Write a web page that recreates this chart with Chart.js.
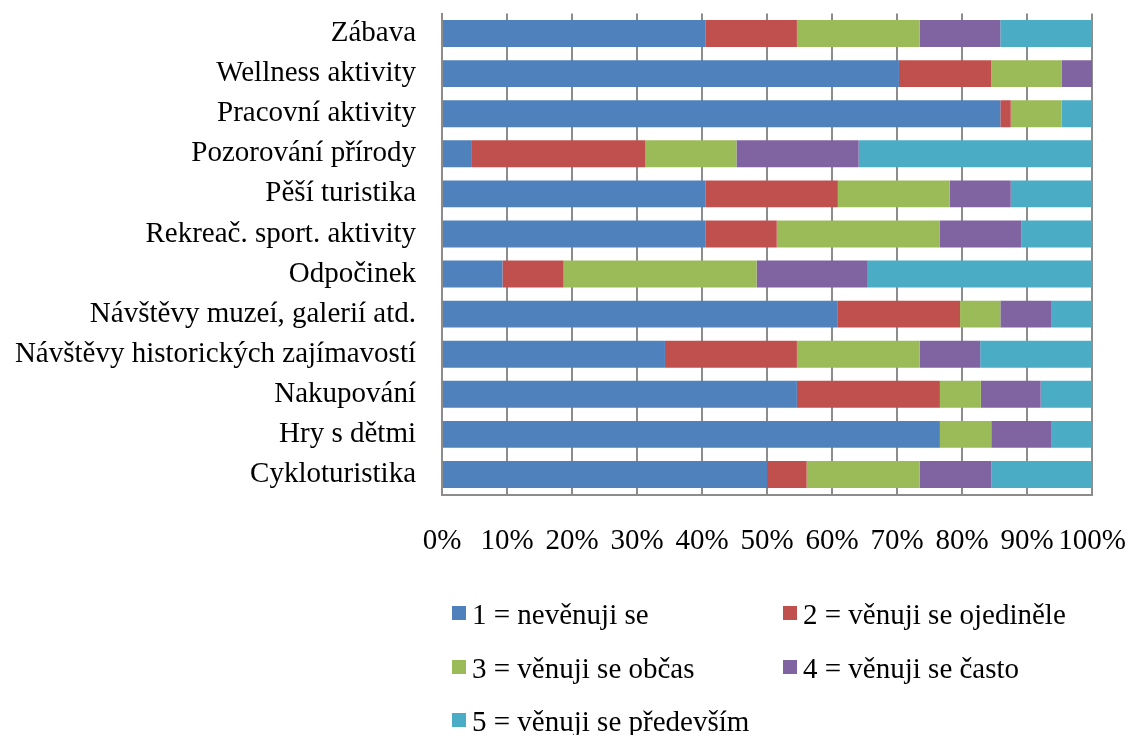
<!DOCTYPE html>
<html>
<head>
<meta charset="utf-8">
<title>Aktivity</title>
<script src="https://cdn.jsdelivr.net/npm/chart.js@4"></script>
<style>
    body { margin: 0; background: #fff; }
    #wrap { width: 1127px; height: 735px; }
</style>
</head>
<body>
<div id="wrap"><canvas id="activity-chart" width="1127" height="735"></canvas></div>
<script>
const categories = [
    'Zábava',
    'Wellness aktivity',
    'Pracovní aktivity',
    'Pozorování přírody',
    'Pěší turistika',
    'Rekreač. sport. aktivity',
    'Odpočinek',
    'Návštěvy muzeí, galerií atd.',
    'Návštěvy historických zajímavostí',
    'Nakupování',
    'Hry s dětmi',
    'Cykloturistika'
];
const seriesNames = [
    '1 = nevěnuji se',
    '2 = věnuji se ojediněle',
    '3 = věnuji se občas',
    '4 = věnuji se často',
    '5 = věnuji se především'
];
const nevenuji = [40.5, 70.3, 85.9, 4.6, 40.5, 40.5, 9.3, 60.9, 34.3, 54.6, 76.6, 50.0];
const ojedinele = [14.1, 14.2, 1.6, 26.7, 20.4, 11.0, 9.4, 18.8, 20.3, 22.0, 0, 6.1];
const obcas = [18.9, 10.8, 7.8, 14.0, 17.2, 25.1, 29.7, 6.2, 18.9, 6.3, 7.9, 17.4];
const casto = [12.4, 4.7, 0, 18.8, 9.4, 12.5, 17.1, 7.8, 9.3, 9.2, 9.2, 11.0];
const predevsim = [14.1, 0, 4.7, 35.9, 12.5, 10.9, 34.5, 6.3, 17.2, 7.9, 6.3, 15.5];
const percentTicks = [0, 10, 20, 30, 40, 50, 60, 70, 80, 90, 100];

const colors = ['#4F81BD', '#C0504D', '#9BBB59', '#8064A2', '#4BACC6'];
const FONT = "'Liberation Serif', 'Times New Roman', serif";
const SIZE = 29;
const GRID = '#8c8c8c';

const values = [nevenuji, ojedinele, obcas, casto, predevsim];
const datasets = values.map((v, i) => ({
    label: seriesNames[i],
    data: v,
    backgroundColor: colors[i],
    borderWidth: 0,
    barPercentage: 0.67,
    categoryPercentage: 1
}));

// legend in two columns under the axis
const gridLegend = {
    id: 'gridLegend',
    afterDraw(chart) {
        const ctx = chart.ctx;
        const cols = [452, 783];
        const rows = [613, 667, 720];
        ctx.save();
        ctx.font = `${SIZE}px ${FONT}`;
        ctx.textBaseline = 'middle';
        ctx.textAlign = 'left';
        chart.data.datasets.forEach((ds, i) => {
            const x = cols[i % 2];
            const y = rows[Math.floor(i / 2)];
            ctx.fillStyle = ds.backgroundColor;
            ctx.fillRect(x, y - 7, 14, 14);
            ctx.fillStyle = '#000';
            ctx.fillText(ds.label, x + 20, y + 3);
        });
        ctx.restore();
    }
};

new Chart(document.getElementById('activity-chart'), {
    type: 'bar',
    data: { labels: categories, datasets },
    options: {
        indexAxis: 'y',
        responsive: false,
        animation: false,
        layout: { padding: { top: 13.5, right: 35, bottom: 174.5, left: 0 } },
        plugins: {
            legend: { display: false },
            tooltip: { enabled: false }
        },
        scales: {
            x: {
                stacked: true,
                min: 0,
                max: 100,
                afterBuildTicks: scale => {
                    scale.ticks = percentTicks.map(v => ({ value: v }));
                },
                afterFit: scale => {
                    scale.height = 66;
                    scale.paddingLeft = 0;
                    scale.paddingRight = 0;
                },
                ticks: {
                    autoSkip: false,
                    callback: v => v + '%',
                    color: '#000',
                    font: { family: FONT, size: SIZE },
                    padding: 29,
                    maxRotation: 0
                },
                grid: { color: GRID, lineWidth: 2, drawTicks: false },
                border: { color: GRID, width: 2 }
            },
            y: {
                stacked: true,
                afterFit: scale => {
                    scale.width = 442;
                    scale.paddingTop = 0;
                    scale.paddingBottom = 0;
                },
                ticks: {
                    color: '#000',
                    font: { family: FONT, size: SIZE },
                    padding: 26
                },
                grid: { display: false, drawTicks: false },
                border: { color: GRID, width: 2 }
            }
        }
    },
    plugins: [gridLegend]
});
</script>
</body>
</html>
